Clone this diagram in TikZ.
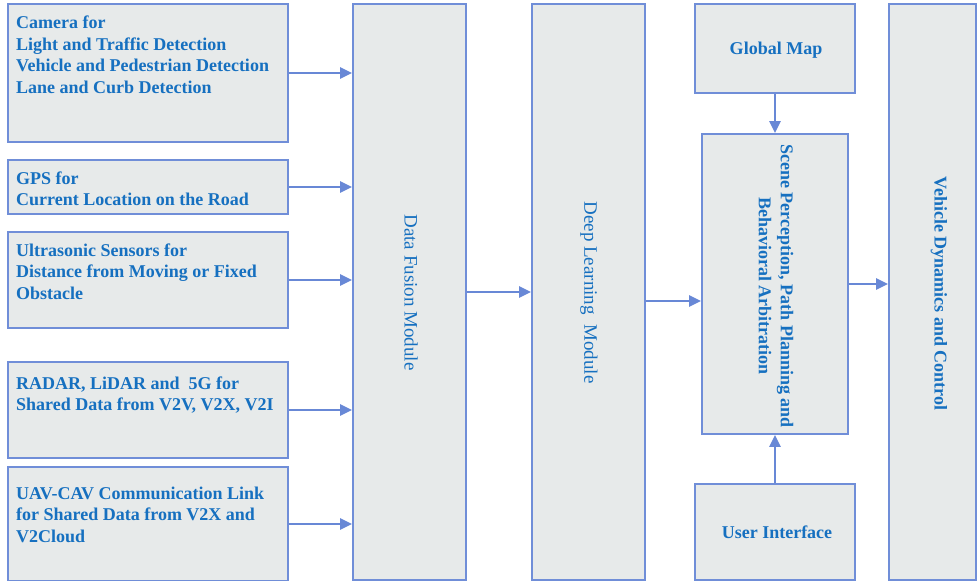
\documentclass[tikz,border=0pt]{standalone}
\usepackage{fontspec}
\setmainfont{Liberation Serif}
\usetikzlibrary{arrows.meta}
\definecolor{txtblue}{RGB}{22,112,192}
\definecolor{edgeblue}{RGB}{112,142,216}
\definecolor{boxfill}{RGB}{231,234,234}
\definecolor{arrblue}{RGB}{104,136,214}
\newcommand{\firststrut}{\rule{0pt}{13pt}}
\tikzset{
  box/.style={draw=edgeblue, fill=boxfill, line width=1.8pt, inner sep=0pt},
  lbl/.style={text=txtblue, font=\fontsize{18}{21.7}\selectfont\bfseries, align=left, anchor=north west, inner sep=0pt},
  vlbl/.style={text=txtblue, font=\fontsize{18}{22}\selectfont\bfseries, align=center, rotate=-90, inner sep=0pt},
  vlblr/.style={text=txtblue, font=\fontsize{19}{22}\selectfont, align=center, rotate=-90, inner sep=0pt},
  hlbl/.style={text=txtblue, font=\fontsize{18}{22}\selectfont\bfseries, anchor=base, inner sep=0pt},
  arr/.style={draw=arrblue, line width=2.4pt, -{Triangle[length=12pt,width=11pt]}}
}
\begin{document}
\begin{tikzpicture}[x=1pt,y=-1pt]
\useasboundingbox (0,0) rectangle (978,581);
% left input boxes
\node[box, minimum width=280pt, minimum height=138pt] (cam) at (148,73) {};
\node[box, minimum width=280pt, minimum height=54pt] (gps) at (148,187) {};
\node[box, minimum width=280pt, minimum height=96pt] (ult) at (148,280) {};
\node[box, minimum width=280pt, minimum height=96pt] (rad) at (148,410) {};
\node[box, minimum width=280pt, minimum height=114pt] (uav) at (148,524) {};
\node[lbl] (camt) at (16,15.3) {\firststrut Camera for\\Light and Traffic Detection\\Vehicle and Pedestrian Detection\\Lane and Curb Detection};
\node[lbl] (gpst) at (16,171) {\firststrut GPS for\\Current Location on the Road};
\node[lbl] (ultt) at (16,243) {\firststrut Ultrasonic Sensors for\\Distance from Moving or Fixed\\Obstacle};
\node[lbl] (radt) at (16,376) {\firststrut RADAR, LiDAR and\ \ 5G for\\Shared Data from V2V, V2X, V2I};
\node[lbl] (uavt) at (16,486) {\firststrut UAV-CAV Communication Link\\for Shared Data from V2X and\\V2Cloud};
% main modules
\node[box, minimum width=113pt, minimum height=576pt] (df) at (409.5,292) {};
\node[vlblr] (dft) at (411,292.5) {Data Fusion Module};
\node[box, minimum width=113pt, minimum height=576pt] (dl) at (588.5,292) {};
\node[vlblr] (dlt) at (589,292.5) {Deep Learning\ \ Module};
\node[box, minimum width=160pt, minimum height=89pt] (gm) at (775,48.5) {};
\node[hlbl] (gmt) at (776,54) {Global Map};
\node[box, minimum width=146pt, minimum height=300pt] (sc) at (775,284) {};
\node[vlbl] (sct) at (776,286) {Scene Perception, Path Planning and\\Behavioral Arbitration};
\node[box, minimum width=160pt, minimum height=96pt] (ui) at (775,532) {};
\node[hlbl] (uit) at (777,538) {User Interface};
\node[box, minimum width=87pt, minimum height=576pt] (vd) at (932.5,292) {};
\node[vlbl] (vdt) at (939,293.5) {Vehicle Dynamics and Control};
% connectors
\draw[arr] (cam.east) -- (cam.east -| df.west);
\draw[arr] (gps.east) -- (gps.east -| df.west);
\draw[arr] (ult.east) -- (ult.east -| df.west);
\draw[arr] (rad.east) -- (rad.east -| df.west);
\draw[arr] (uav.east) -- (uav.east -| df.west);
\draw[arr] (df.east) -- (df.east -| dl.west);
\draw[arr] ([yshift=-9pt]dl.east) -- ([yshift=-9pt]dl.east -| sc.west);
\draw[arr] (sc.east) -- (sc.east -| vd.west);
\draw[arr] (gm.south) -- (sc.north);
\draw[arr] (ui.north) -- (sc.south);
\end{tikzpicture}
\end{document}
